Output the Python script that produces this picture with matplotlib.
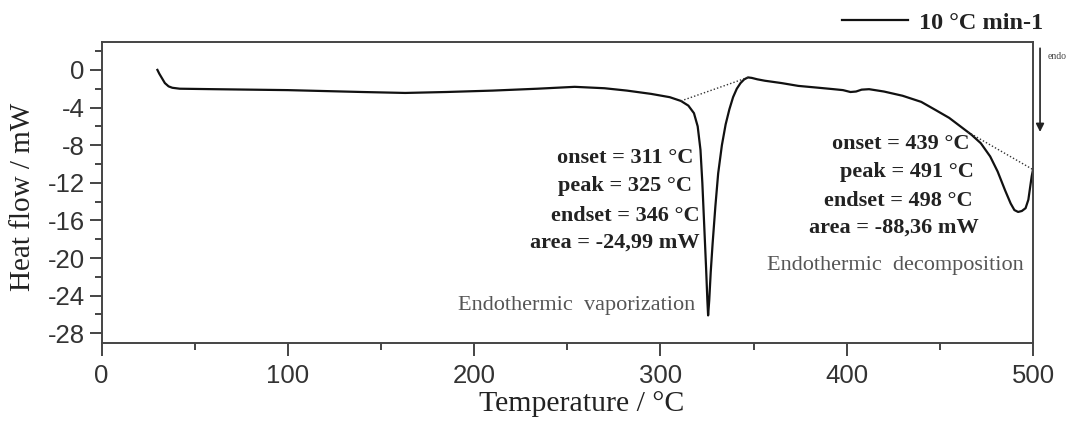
import matplotlib.pyplot as plt
import matplotlib.ticker as mticker

plt.rcParams["axes.unicode_minus"] = False

# DSC curve: temperature (°C) and heat flow (mW)
temp = [30, 31, 32.5, 34, 36, 38, 42, 60, 80, 100, 120, 140, 163, 185, 210,
        234, 254, 270, 282, 295, 305, 311, 315, 318, 320, 321.5, 322.5, 323.5,
        324.5, 325.2, 325.6, 326.2, 327, 328, 329.5, 331, 333, 335, 337, 339,
        341, 343, 345, 347, 349, 352, 356, 365, 374, 385, 393, 398, 402, 405,
        408, 412, 420, 430, 440, 448, 455, 461, 467, 472, 477, 481, 485, 488,
        490, 492, 494, 496, 497.5, 498.5, 499.3, 500]
heat_flow = [0.0, -0.4, -0.9, -1.4, -1.75, -1.9, -2.0, -2.05, -2.1, -2.15,
             -2.25, -2.35, -2.45, -2.35, -2.2, -2.0, -1.8, -1.95, -2.2, -2.55,
             -2.9, -3.3, -3.8, -4.6, -6.0, -8.5, -12.0, -16.5, -21.0, -24.5,
             -26.1, -24.5, -21.5, -18.5, -14.5, -11.0, -8.0, -5.8, -4.2, -2.9,
             -2.0, -1.4, -1.0, -0.8, -0.85, -1.0, -1.15, -1.4, -1.7, -1.9,
             -2.05, -2.15, -2.35, -2.3, -2.1, -2.05, -2.3, -2.75, -3.4, -4.3,
             -5.1, -6.0, -6.9, -7.8, -9.2, -10.8, -12.8, -14.2, -14.9, -15.1,
             -15.0, -14.7, -13.8, -12.4, -11.3, -10.6]

# dotted baselines under the two peaks
base1_t = [311, 347]
base1_hf = [-3.3, -0.8]
base2_t = [465, 500]
base2_hf = [-6.6, -10.6]

peak1_lines = ["onset = 311 °C", "peak = 325 °C", "endset = 346 °C", "area = -24,99 mW"]
peak2_lines = ["onset = 439 °C", "peak = 491 °C", "endset = 498 °C", "area = -88,36 mW"]

serif = "Liberation Serif"
sans = "Liberation Sans"

fig = plt.figure(figsize=(10.8, 4.21), dpi=100)
ax = fig.add_axes([0.094, 0.186, 0.8625, 0.715])

ax.plot(temp, heat_flow, color="#111111", lw=1.6)
ax.plot(base1_t, base1_hf, color="#333333", lw=1.0, linestyle=(0, (1, 1.5)))
ax.plot(base2_t, base2_hf, color="#333333", lw=1.0, linestyle=(0, (1, 1.5)))

ax.set_xlim(0, 500)
ax.set_ylim(-29, 3)
ax.xaxis.set_major_locator(mticker.MultipleLocator(100))
ax.xaxis.set_minor_locator(mticker.MultipleLocator(50))
ax.yaxis.set_major_locator(mticker.MultipleLocator(4))
ax.yaxis.set_minor_locator(mticker.MultipleLocator(2))

for side in ["left", "right", "top", "bottom"]:
    ax.spines[side].set_color("#444444")
    ax.spines[side].set_linewidth(1.4)

ax.tick_params(which="both", direction="out", color="#444444", width=1.4,
               top=False, right=False)
ax.tick_params(which="major", length=9, labelsize=18.5, labelcolor="#333333")
ax.tick_params(which="minor", length=5)
ax.tick_params(axis="x", pad=6)
ax.tick_params(axis="y", pad=3)
for lab in ax.get_xticklabels() + ax.get_yticklabels():
    lab.set_fontfamily(sans)

ax.set_xlabel("Temperature / °C", family=serif, fontsize=21.5, color="#222222")
ax.set_ylabel("Heat flow / mW", family=serif, fontsize=21, color="#222222")
ax.xaxis.set_label_coords(0.515, -0.16)
ax.yaxis.set_label_coords(-0.07, 0.484)

# annotations for the vaporization peak
left_x = [317.6, 317.0, 321.3, 320.8]
left_y = [-9.4, -12.3, -15.5, -18.4]
for s, x, y in zip(peak1_lines, left_x, left_y):
    ax.text(x, y, s, ha="right", va="center", family=serif, fontweight="bold",
            fontsize=16, color="#222222")
ax.text(255, -25.0, "Endothermic  vaporization", ha="center", va="center",
        family=serif, fontsize=16, color="#555555")

# annotations for the decomposition peak
right_x = [429.0, 432.5, 427.5, 425.5]
right_y = [-7.85, -10.9, -13.9, -16.8]
for s, x, y in zip(peak2_lines, right_x, right_y):
    ax.text(x, y, s, ha="center", va="center", family=serif, fontweight="bold",
            fontsize=16, color="#222222")
ax.text(426, -20.75, "Endothermic  decomposition", ha="center", va="center",
        family=serif, fontsize=16, color="#555555")

# legend line and label above the frame
fig.add_artist(plt.Line2D([0.78, 0.841], [0.953, 0.953], color="#111111", lw=1.6))
fig.text(0.851, 0.945, "10 °C min-1", ha="left", va="center", family=serif,
         fontweight="bold", fontsize=17.5, color="#222222")

# endo arrow at the right
ax.annotate("", xy=(0.963, 0.68), xytext=(0.963, 0.892), xycoords="figure fraction",
            textcoords="figure fraction",
            arrowprops=dict(arrowstyle="-|>", color="#222222", lw=1.2,
                            mutation_scale=12))
fig.text(0.97, 0.865, "endo", ha="left", va="center", family=serif, fontsize=7,
         color="#444444")

fig.savefig("out.png", dpi=100)
